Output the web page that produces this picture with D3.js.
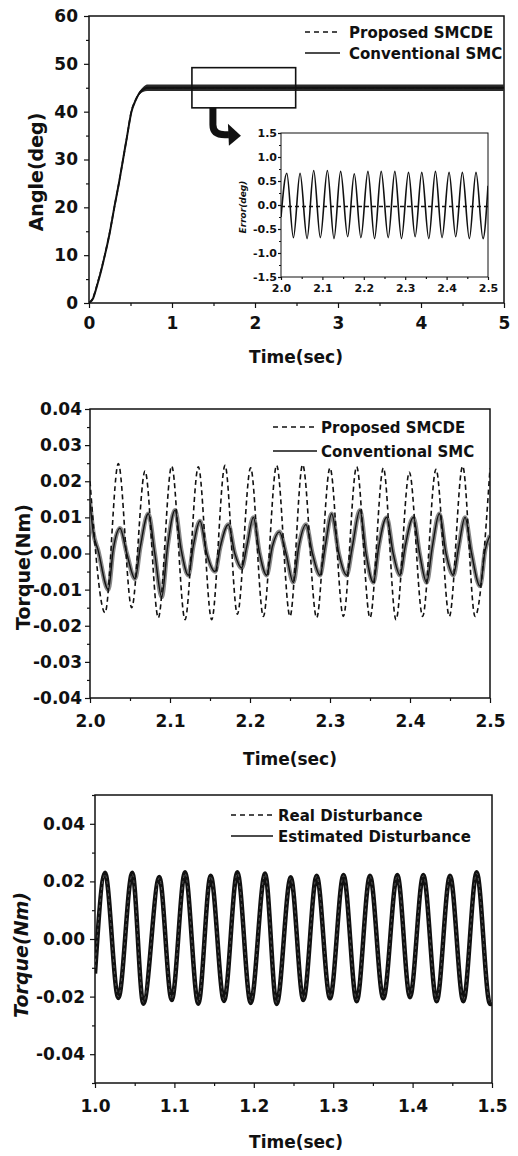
<!DOCTYPE html>
<html>
<head>
<meta charset="utf-8">
<script src="https://cdn.jsdelivr.net/npm/d3@7"></script>
<style>
  body { margin: 0; background: #fff; }
  svg text { font-family: "DejaVu Sans", sans-serif; font-weight: bold; fill: #111; }
</style>
</head>
<body>
<svg id="fig" width="518" height="1156"></svg>
<script>
// ---- Panel 1: angle response (deg) ----
const angleTime = [0, 0.05, 0.1, 0.15, 0.19, 0.25, 0.305, 0.36, 0.41, 0.46, 0.51, 0.56, 0.6, 0.65, 0.7, 0.75, 0.8, 1, 2, 3, 4, 5];
const angleProposed = [0, 1.2, 4.0, 7.2, 10, 14.8, 20, 25, 30, 35, 40, 42.4, 43.7, 44.6, 44.95, 45, 45, 45, 45, 45, 45, 45];
const angleConventional = [0, 1.0, 3.8, 7.0, 9.9, 14.7, 20, 25, 30, 35, 39.9, 42.3, 43.7, 44.6, 45, 45, 45, 45, 45, 45, 45, 45];
const angleRipple = [0, 0, 0, 0, 0, 0, 0, 0, 0, 0, 0, 0.1, 0.3, 0.5, 0.7, 0.7, 0.7, 0.7, 0.7, 0.7, 0.7, 0.7];
const angleTicks = [0, 10, 20, 30, 40, 50, 60];
const timeTicks1 = [0, 1, 2, 3, 4, 5];
const zoomBox = { t0: 1.24, t1: 2.49, a0: 40.8, a1: 49.2 };

// ---- Inset: tracking error (deg), 2.0 - 2.5 s ----
const errTime = [2.000, 2.014, 2.030, 2.046, 2.063, 2.079, 2.095, 2.112, 2.128, 2.144, 2.161, 2.177, 2.193, 2.210, 2.226, 2.242,
                 2.259, 2.275, 2.291, 2.308, 2.324, 2.340, 2.357, 2.373, 2.389, 2.406, 2.422, 2.438, 2.455, 2.471, 2.488, 2.500];
const errConventional = [-0.25, 0.66, -0.68, 0.66, -0.70, 0.72, -0.68, 0.72, -0.70, 0.70, -0.66, 0.65, -0.68, 0.70, -0.70, 0.70,
                         -0.68, 0.70, -0.70, 0.68, -0.66, 0.68, -0.70, 0.70, -0.68, 0.68, -0.66, 0.68, -0.70, 0.68, -0.70, 0.40];
const errPropTime = [2.0, 2.1, 2.2, 2.3, 2.4, 2.5];
const errProposed = [-0.03, -0.03, -0.03, -0.03, -0.03, -0.03];
const errTicks = [-1.5, -1.0, -0.5, 0.0, 0.5, 1.0, 1.5];
const errTimeTicks = [2.0, 2.1, 2.2, 2.3, 2.4, 2.5];

// ---- Panel 2: control torque (Nm), 2.0 - 2.5 s ----
const propTime = [2.000, 2.0188, 2.0354, 2.0521, 2.0688, 2.0854, 2.1021, 2.1188, 2.1354, 2.1521, 2.1688, 2.1842, 2.2008, 2.2167, 2.2333, 2.2500,
                  2.2658, 2.2833, 2.3000, 2.3167, 2.3333, 2.3500, 2.3667, 2.3825, 2.3992, 2.4158, 2.4325, 2.4492, 2.4658, 2.4813, 2.5000];
const propTorque = [0.0200, -0.0164, 0.0249, -0.0150, 0.0228, -0.0178, 0.0242, -0.0183, 0.0240, -0.0183, 0.0244, -0.0168, 0.0237, -0.0174, 0.0244, -0.0174,
                    0.0246, -0.0178, 0.0237, -0.0174, 0.0240, -0.0178, 0.0237, -0.0183, 0.0225, -0.0174, 0.0233, -0.0174, 0.0242, -0.0174, 0.0235];
const convTime = [2.000, 2.004, 2.010, 2.0229, 2.029, 2.0375, 2.046, 2.0563, 2.063, 2.0729, 2.081, 2.0896, 2.097, 2.1063, 2.114, 2.1229,
                  2.129, 2.1375, 2.146, 2.1563, 2.163, 2.1729, 2.181, 2.1896, 2.196, 2.2042, 2.212, 2.2208, 2.228, 2.2367, 2.245, 2.2542,
                  2.261, 2.270, 2.278, 2.2875, 2.294, 2.3021, 2.311, 2.3208, 2.328, 2.3375, 2.345, 2.3542, 2.361, 2.3708, 2.379, 2.3875,
                  2.394, 2.4042, 2.412, 2.4208, 2.428, 2.4367, 2.445, 2.4542, 2.461, 2.4688, 2.477, 2.4875, 2.494, 2.500];
const convTorque = [0.014, 0.006, 0.001, -0.010, 0.001, 0.007, 0.000, -0.007, 0.002, 0.011, 0.000, -0.012, 0.002, 0.012, 0.001, -0.006,
                    0.002, 0.009, 0.000, -0.005, 0.002, 0.008, 0.000, -0.004, 0.002, 0.010, 0.000, -0.006, 0.002, 0.006, 0.000, -0.008,
                    0.002, 0.008, 0.000, -0.006, 0.002, 0.011, 0.000, -0.006, 0.002, 0.012, 0.000, -0.008, 0.002, 0.010, 0.000, -0.006,
                    0.002, 0.010, 0.000, -0.008, 0.002, 0.011, 0.000, -0.006, 0.002, 0.010, 0.000, -0.009, 0.001, 0.005];
const torqueTicks2 = [-0.04, -0.03, -0.02, -0.01, 0.00, 0.01, 0.02, 0.03, 0.04];
const timeTicks2 = [2.0, 2.1, 2.2, 2.3, 2.4, 2.5];

// ---- Panel 3: disturbance (Nm), 1.0 - 1.5 s ----
const distTime = [1.000, 1.0126, 1.0294, 1.0470, 1.0609, 1.0810, 1.0966, 1.1134, 1.1301, 1.1457, 1.1625, 1.1793, 1.1961, 1.2142, 1.2288, 1.2465,
                  1.2624, 1.2792, 1.2960, 1.3130, 1.3296, 1.3463, 1.3631, 1.3808, 1.3967, 1.4135, 1.4303, 1.4471, 1.4639, 1.4807, 1.4975, 1.5000];
const distReal = [-0.010, 0.0225, -0.0200, 0.0225, -0.0220, 0.0212, -0.0208, 0.0228, -0.0220, 0.0218, -0.0212, 0.0228, -0.0218, 0.0225, -0.0222, 0.0212,
                  -0.0208, 0.0218, -0.0202, 0.0220, -0.0212, 0.0218, -0.0202, 0.0220, -0.0198, 0.0220, -0.0212, 0.0218, -0.0212, 0.0228, -0.0220, -0.0215];
const distEstimated = [-0.012, 0.0230, -0.0205, 0.0230, -0.0225, 0.0215, -0.0212, 0.0232, -0.0225, 0.0220, -0.0215, 0.0232, -0.0222, 0.0227, -0.0226, 0.0214,
                       -0.0212, 0.0220, -0.0206, 0.0222, -0.0216, 0.0220, -0.0206, 0.0222, -0.0202, 0.0222, -0.0216, 0.0220, -0.0216, 0.0232, -0.0226, -0.0225];
const torqueTicks3 = [-0.04, -0.02, 0.00, 0.02, 0.04];
const timeTicks3 = [1.0, 1.1, 1.2, 1.3, 1.4, 1.5];

const svg = d3.select("#fig");

function zip(ts, vs) { return ts.map((t, i) => ({ t: t, v: vs[i] })); }
// plain hyphen minus, like the original figure
function fmt(spec) { const f = d3.format(spec); return d => f(d).replace("\u2212", "-"); }

// draws the box, ticks and tick labels of one plot, returns its scales
function panel(o) {
  const x = d3.scaleLinear().domain(o.xDomain).range([o.left, o.right]);
  const y = d3.scaleLinear().domain(o.yDomain).range([o.bottom, o.top]);
  const g = svg.append("g");
  const fs = o.fontSize;

  // minor ticks
  g.append("g").attr("transform", "translate(0," + o.bottom + ")")
    .call(d3.axisBottom(x).tickValues(o.xMinor).tickSize(o.minorLen).tickFormat(""));
  g.append("g").attr("transform", "translate(" + o.left + ",0)")
    .call(d3.axisLeft(y).tickValues(o.yMinor).tickSize(o.minorLen).tickFormat(""));

  // major ticks with labels
  g.append("g").attr("transform", "translate(0," + o.bottom + ")")
    .call(d3.axisBottom(x).tickValues(o.xMajor).tickSize(o.tickLen).tickPadding(o.xPad).tickFormat(o.xFmt))
    .selectAll("text").style("font-size", fs + "px");
  g.append("g").attr("transform", "translate(" + o.left + ",0)")
    .call(d3.axisLeft(y).tickValues(o.yMajor).tickSize(o.tickLen).tickPadding(o.yPad).tickFormat(o.yFmt))
    .selectAll("text").style("font-size", fs + "px");

  g.selectAll(".domain").remove();
  g.selectAll(".tick line").attr("stroke", "#111").attr("stroke-width", 1.2);
  g.selectAll(".tick text").attr("fill", "#111");

  g.append("rect")
    .attr("x", o.left).attr("y", o.top)
    .attr("width", o.right - o.left).attr("height", o.bottom - o.top)
    .attr("fill", "none").attr("stroke", "#111").attr("stroke-width", o.boxWidth || 1.5);

  const id = "clip" + Math.round(o.top);
  svg.append("clipPath").attr("id", id).append("rect")
    .attr("x", o.left).attr("y", o.top)
    .attr("width", o.right - o.left).attr("height", o.bottom - o.top);
  const plot = svg.append("g").attr("clip-path", "url(#" + id + ")");
  return { x: x, y: y, plot: plot };
}

function legend(x0, x1, tx, rows) {
  const g = svg.append("g");
  rows.forEach(r => {
    g.append("line").attr("x1", x0).attr("x2", x1).attr("y1", r.y).attr("y2", r.y)
      .attr("stroke", "#111").attr("stroke-width", 1.5)
      .attr("stroke-dasharray", r.dash ? "5,4" : null);
    g.append("text").attr("x", tx).attr("y", r.y + 5.5).style("font-size", "15px").text(r.label);
  });
}

function yTitle(x, yc, label, size, italic) {
  svg.append("text")
    .attr("transform", "translate(" + x + "," + yc + ") rotate(-90)")
    .attr("text-anchor", "middle")
    .style("font-size", size + "px")
    .style("font-style", italic ? "italic" : "normal")
    .text(label);
}

function xTitle(xc, y, label) {
  svg.append("text").attr("x", xc).attr("y", y).attr("text-anchor", "middle")
    .style("font-size", "17px").text(label);
}

// ================= Panel 1 =================
const p1 = panel({
  left: 89, right: 504, top: 16, bottom: 303,
  xDomain: [0, 5], yDomain: [0, 60],
  xMajor: timeTicks1, xMinor: [0.5, 1.5, 2.5, 3.5, 4.5],
  yMajor: angleTicks, yMinor: [5, 15, 25, 35, 45, 55],
  xFmt: fmt("d"), yFmt: fmt("d"),
  fontSize: 17, tickLen: 5, minorLen: 3, xPad: 9, yPad: 6
});

const ang = angleTime.map((t, i) => ({ t: t, p: angleProposed[i], c: angleConventional[i], r: angleRipple[i] }));
p1.plot.append("path").datum(ang)
  .attr("d", d3.area().x(d => p1.x(d.t)).y0(d => p1.y(d.c - d.r)).y1(d => p1.y(d.c + d.r)).curve(d3.curveMonotoneX))
  .attr("fill", "#2a2a2a");
p1.plot.append("path").datum(ang)
  .attr("d", d3.line().x(d => p1.x(d.t)).y(d => p1.y(d.c)).curve(d3.curveMonotoneX))
  .attr("fill", "none").attr("stroke", "#111").attr("stroke-width", 2);
p1.plot.append("path").datum(ang)
  .attr("d", d3.line().x(d => p1.x(d.t)).y(d => p1.y(d.p)).curve(d3.curveMonotoneX))
  .attr("fill", "none").attr("stroke", "#111").attr("stroke-width", 1.6).attr("stroke-dasharray", "5,3");

// zoom box and arrow
const bx0 = p1.x(zoomBox.t0), bx1 = p1.x(zoomBox.t1), by0 = p1.y(zoomBox.a1), by1 = p1.y(zoomBox.a0);
svg.append("rect").attr("x", bx0).attr("y", by0).attr("width", bx1 - bx0).attr("height", by1 - by0)
  .attr("fill", "none").attr("stroke", "#111").attr("stroke-width", 1.6);
const ax = bx0 + 21, ay = by1;
svg.append("path")
  .attr("d", `M${ax},${ay} V${ay + 17} Q${ax},${ay + 27} ${ax + 12},${ay + 27} H${ax + 16}`)
  .attr("fill", "none").attr("stroke", "#111").attr("stroke-width", 7);
svg.append("path")
  .attr("d", `M${ax + 15},${ay + 16} L${ax + 28},${ay + 28} L${ax + 16},${ay + 38} Z`)
  .attr("fill", "#111");

legend(305, 340, 349, [
  { y: 32, dash: true, label: "Proposed SMCDE" },
  { y: 53, dash: false, label: "Conventional SMC" }
]);
yTitle(43, 172, "Angle(deg)", 19, false);
xTitle(296, 363, "Time(sec)");

// ---- inset ----
const pi = panel({
  left: 281, right: 488, top: 133, bottom: 277,
  xDomain: [2.0, 2.5], yDomain: [-1.5, 1.5],
  xMajor: errTimeTicks, xMinor: [2.05, 2.15, 2.25, 2.35, 2.45],
  yMajor: errTicks, yMinor: [-1.25, -0.75, -0.25, 0.25, 0.75, 1.25],
  xFmt: fmt(".1f"), yFmt: fmt(".1f"),
  fontSize: 11, tickLen: 3, minorLen: 2, xPad: 4, yPad: 1, boxWidth: 1
});
pi.plot.append("path").datum(zip(errTime, errConventional))
  .attr("d", d3.line().x(d => pi.x(d.t)).y(d => pi.y(d.v)).curve(d3.curveMonotoneX))
  .attr("fill", "none").attr("stroke", "#111").attr("stroke-width", 1.6);
pi.plot.append("path").datum(zip(errPropTime, errProposed))
  .attr("d", d3.line().x(d => pi.x(d.t)).y(d => pi.y(d.v)))
  .attr("fill", "none").attr("stroke", "#111").attr("stroke-width", 1.4).attr("stroke-dasharray", "4,3");
svg.append("text")
  .attr("transform", "translate(246,207) rotate(-90)")
  .attr("text-anchor", "middle").style("font-size", "9px").style("font-style", "italic")
  .text("Error(deg)");

// ================= Panel 2 =================
const p2 = panel({
  left: 90, right: 490, top: 409, bottom: 698,
  xDomain: [2.0, 2.5], yDomain: [-0.04, 0.04],
  xMajor: timeTicks2, xMinor: [2.05, 2.15, 2.25, 2.35, 2.45],
  yMajor: torqueTicks2, yMinor: [-0.035, -0.025, -0.015, -0.005, 0.005, 0.015, 0.025, 0.035],
  xFmt: fmt(".1f"), yFmt: fmt(".2f"),
  fontSize: 17, tickLen: 5, minorLen: 3, xPad: 12, yPad: 3
});
const convLine = d3.line().x(d => p2.x(d.t)).y(d => p2.y(d.v)).curve(d3.curveMonotoneX);
p2.plot.append("path").datum(zip(convTime, convTorque))
  .attr("d", convLine).attr("fill", "none").attr("stroke", "#888").attr("stroke-width", 4.5);
p2.plot.append("path").datum(zip(convTime, convTorque))
  .attr("d", convLine).attr("fill", "none").attr("stroke", "#111").attr("stroke-width", 1.4);
p2.plot.append("path").datum(zip(propTime, propTorque))
  .attr("d", d3.line().x(d => p2.x(d.t)).y(d => p2.y(d.v)).curve(d3.curveMonotoneX))
  .attr("fill", "none").attr("stroke", "#111").attr("stroke-width", 1.6).attr("stroke-dasharray", "5,3.5");

legend(273, 317, 321, [
  { y: 427, dash: true, label: "Proposed SMCDE" },
  { y: 451, dash: false, label: "Conventional SMC" }
]);
yTitle(30, 567, "Torque(Nm)", 19, false);
xTitle(290, 765, "Time(sec)");

// ================= Panel 3 =================
const p3 = panel({
  left: 95, right: 492, top: 795, bottom: 1083,
  xDomain: [1.0, 1.5], yDomain: [-0.05, 0.05],
  xMajor: timeTicks3, xMinor: [1.05, 1.15, 1.25, 1.35, 1.45],
  yMajor: torqueTicks3, yMinor: [-0.05, -0.03, -0.01, 0.01, 0.03, 0.05],
  xFmt: fmt(".1f"), yFmt: fmt(".2f"),
  fontSize: 17, tickLen: 5, minorLen: 3, xPad: 12, yPad: 5
});
const distLine = d3.line().x(d => p3.x(d.t)).y(d => p3.y(d.v)).curve(d3.curveMonotoneX);
p3.plot.append("path").datum(zip(distTime, distEstimated))
  .attr("d", distLine).attr("fill", "none").attr("stroke", "#111").attr("stroke-width", 4.5);
p3.plot.append("path").datum(zip(distTime, distReal))
  .attr("d", distLine).attr("fill", "none").attr("stroke", "#555").attr("stroke-width", 1).attr("stroke-dasharray", "3,3");

legend(231, 273, 278, [
  { y: 815, dash: true, label: "Real Disturbance" },
  { y: 836, dash: false, label: "Estimated Disturbance" }
]);
yTitle(28, 955, "Torque(Nm)", 19, true);
xTitle(296, 1148, "Time(sec)");
</script>
</body>
</html>
